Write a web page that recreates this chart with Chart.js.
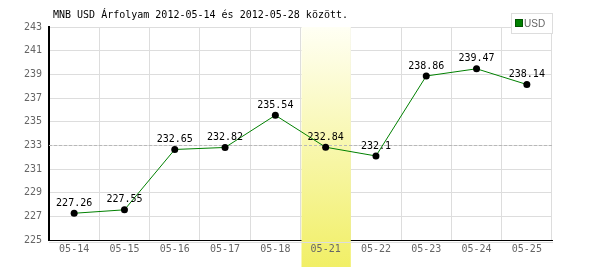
<!DOCTYPE html>
<html lang="hu">
  <head>
    <meta charset="UTF-8" />
    <title>MNB USD árfolyam</title>
    <script src="https://cdn.jsdelivr.net/npm/chart.js"></script>
    <style>
      html, body { margin: 0; padding: 0; background: #fff; }
      #wrap { width: 600px; height: 270px; position: relative; }
    </style>
  </head>
  <body>
    <div id="wrap"><canvas id="chart" width="600" height="270"></canvas></div>

    <script>
      // -------- adatok -------- //
      const title = "MNB USD Árfolyam 2012-05-14 és 2012-05-28 között.";
      const days = ["05-14", "05-15", "05-16", "05-17", "05-18", "05-21", "05-22", "05-23", "05-24", "05-25"];
      const usdRates = [227.26, 227.55, 232.65, 232.82, 235.54, 232.84, 232.1, 238.86, 239.47, 238.14];
      const yTicks = [225, 227, 229, 231, 233, 235, 237, 239, 241, 243];
      const highlightDay = "05-21";
      const refLevel = 233;

      const MONO = "'DejaVu Sans Mono', monospace";

      // -------- saját rajzolások -------- //
      const decor = {
        id: "decor",
        beforeDatasetsDraw(chart) {
          const { ctx, chartArea, scales } = chart;
          const x = scales.x, y = scales.y;
          const i = days.indexOf(highlightDay);
          const half = (x.getPixelForValue(1) - x.getPixelForValue(0)) / 2;
          const cx = x.getPixelForValue(i);
          const top = chartArea.top, bottom = chart.height - 3;
          ctx.save();
          const g = ctx.createLinearGradient(0, top, 0, bottom);
          g.addColorStop(0, "#fffff4");
          g.addColorStop(1, "#f1ef66");
          ctx.fillStyle = g;
          ctx.fillRect(cx - half + 1, top, half * 2 - 1, bottom - top);

          // nap felirat újra a sáv fölé, ugyanott ahol a tengely rajzolta
          const item = x.getLabelItems().find((it) => it.label === highlightDay);
          if (item) {
            const o = item.options;
            ctx.fillStyle = "#666";
            ctx.font = item.font.string;
            ctx.textAlign = o.textAlign;
            ctx.textBaseline = o.textBaseline;
            ctx.fillText(item.label, o.translation[0], o.translation[1] + (item.textOffset || 0));
          }

          // szaggatott referencia vonal
          const ry = Math.round(y.getPixelForValue(refLevel)) + 0.5;
          ctx.strokeStyle = "#b8b8b8";
          ctx.lineWidth = 1;
          ctx.setLineDash([3, 2]);
          ctx.beginPath();
          ctx.moveTo(chartArea.left, ry);
          ctx.lineTo(chartArea.right, ry);
          ctx.stroke();
          ctx.setLineDash([]);

          // szürke vonal a tengely alatt
          ctx.strokeStyle = "#dddddd";
          ctx.beginPath();
          ctx.moveTo(chartArea.left, chartArea.bottom + 2.5);
          ctx.lineTo(chartArea.right + 1, chartArea.bottom + 2.5);
          ctx.stroke();
          ctx.restore();
        },
        afterDatasetsDraw(chart) {
          const { ctx } = chart;
          const meta = chart.getDatasetMeta(0);
          ctx.save();
          ctx.fillStyle = "#000";
          ctx.font = "10px " + MONO;
          ctx.textAlign = "center";
          ctx.textBaseline = "middle";
          meta.data.forEach((pt, i) => {
            ctx.fillText(String(usdRates[i]), pt.x, pt.y - 10);
          });
          ctx.restore();
        },
        afterDraw(chart) {
          const { ctx, chartArea } = chart;
          ctx.save();
          // cím
          ctx.fillStyle = "#000";
          ctx.font = "10px " + MONO;
          ctx.textBaseline = "middle";
          ctx.fillText(title, chartArea.left + 4, 15);
          // jelmagyarázat
          ctx.fillStyle = "#fff";
          ctx.fillRect(511.5, 13.5, 41, 20);
          ctx.strokeStyle = "#dddddd";
          ctx.strokeRect(511.5, 13.5, 41, 20);
          ctx.fillStyle = "#008000";
          ctx.fillRect(516, 20, 6, 6);
          ctx.strokeStyle = "#005500";
          ctx.strokeRect(515.5, 19.5, 7, 7);
          ctx.fillStyle = "#666";
          ctx.font = "10px 'Liberation Sans', sans-serif";
          ctx.fillText("USD", 524, 24);
          ctx.restore();
        },
      };

      // -------- Chart.js -------- //
      new Chart(document.getElementById("chart").getContext("2d"), {
        type: "line",
        data: {
          labels: days,
          datasets: [
            {
              label: "USD",
              data: usdRates,
              borderColor: "#008000",
              borderWidth: 1,
              tension: 0,
              pointRadius: 3.5,
              pointBackgroundColor: "#000",
              pointBorderColor: "#000",
              pointBorderWidth: 0,
            },
          ],
        },
        options: {
          responsive: false,
          animation: false,
          layout: { padding: { top: 27, right: 48, left: 0, bottom: 0 } },
          plugins: { legend: { display: false }, tooltip: { enabled: false } },
          scales: {
            x: {
              offset: true,
              afterFit: (s) => { s.height = 30; },
              grid: { offset: true, color: "#dddddd", drawTicks: false },
              border: { color: "#000", width: 1 },
              ticks: { color: "#666", font: { family: MONO, size: 10 }, padding: 3, maxRotation: 0 },
            },
            y: {
              min: 225,
              max: 243,
              afterFit: (s) => { s.width = 49; },
              afterBuildTicks: (s) => { s.ticks = yTicks.map((v) => ({ value: v })); },
              grid: { color: "#dddddd", drawTicks: false },
              border: { color: "#000", width: 2 },
              ticks: { color: "#666", font: { family: MONO, size: 10 }, padding: 7 },
            },
          },
        },
        plugins: [decor],
      });
    </script>
  </body>
</html>
